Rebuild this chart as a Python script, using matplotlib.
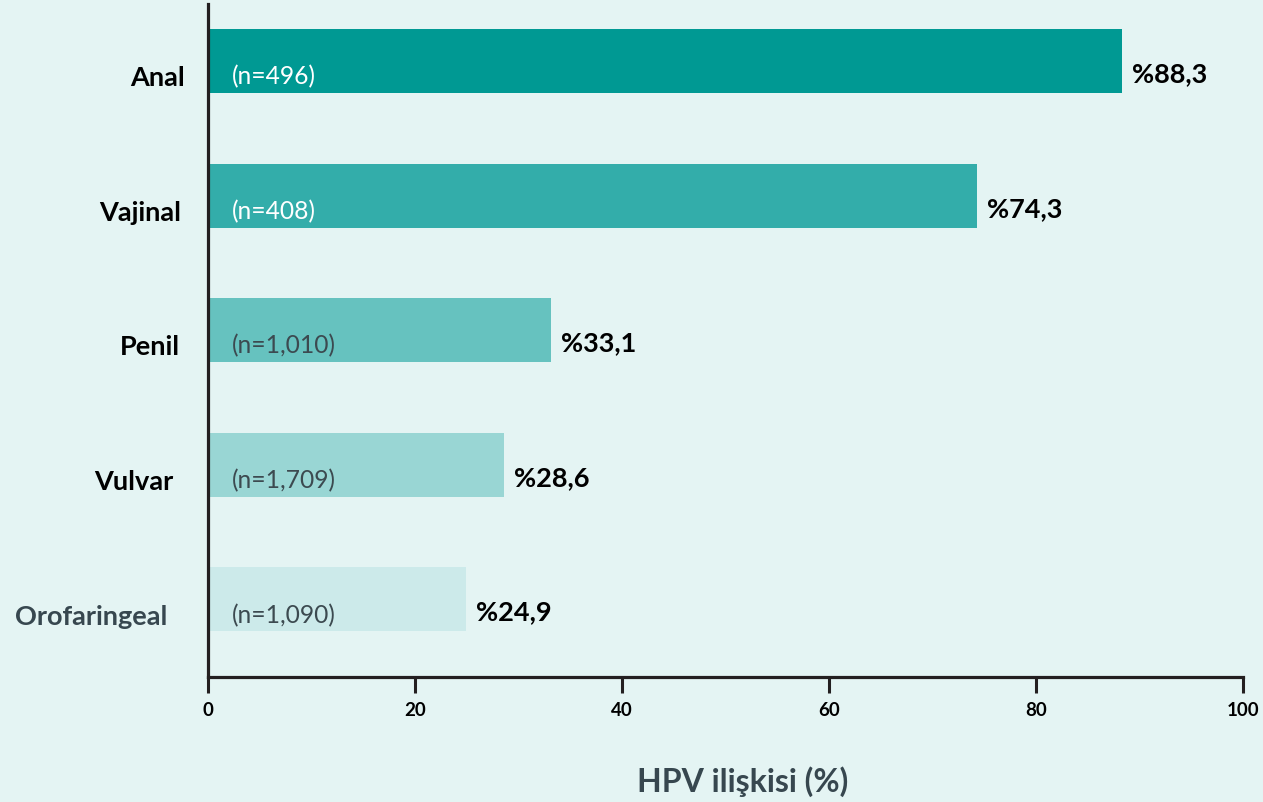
import matplotlib
matplotlib.use("Agg")
import matplotlib.pyplot as plt

plt.rcParams['font.family'] = ['Lato', 'DejaVu Sans']

categories = ["Anal", "Vajinal", "Penil", "Vulvar", "Orofaringeal"]
values = [88.3, 74.3, 33.1, 28.6, 24.9]
n_labels = ["(n=496)", "(n=408)", "(n=1,010)", "(n=1,709)", "(n=1,090)"]
value_labels = ["%88,3", "%74,3", "%33,1", "%28,6", "%24,9"]
xticks = [0, 20, 40, 60, 80, 100]
xlabel = "HPV ilişkisi (%)"

bar_colors = ["#009993", "#33ADAA", "#66C2BF", "#99D6D4", "#CCEAEA"]
n_colors = ["white", "white", "#3C4A50", "#3C4A50", "#3C4A50"]
cat_colors = ["black", "black", "black", "black", "#37474F"]
cat_x = [185, 181, 180, 173, 167]  # right edge in pixels
bg = "#E4F4F3"

W, H = 1263, 803
fig = plt.figure(figsize=(W / 100, H / 100), dpi=100, facecolor=bg)
ax = fig.add_axes([208 / W, 1 - 678 / H, (1243 - 208) / W, (678 - 5) / H])
ax.set_facecolor(bg)

ypos = list(range(len(categories) - 1, -1, -1))
ax.barh(ypos, values, height=0.475, color=bar_colors, zorder=2)

ax.set_xlim(0, 100)
ax.set_ylim(-0.577, 4.424)
ax.set_xticks(xticks)
ax.set_xticklabels([str(t) for t in xticks], fontsize=13.5, fontweight='bold')
ax.set_yticks([])
ax.tick_params(axis='x', length=11.5, width=2.2, color="#231F20", pad=6)

for s in ["top", "right"]:
    ax.spines[s].set_visible(False)
for s in ["left", "bottom"]:
    ax.spines[s].set_linewidth(2.3)
    ax.spines[s].set_color("#231F20")

blend = matplotlib.transforms.blended_transform_factory(fig.transFigure, ax.transData)
for y, cat, v, nl, vl, nc, cc, cx in zip(ypos, categories, values, n_labels,
                                         value_labels, n_colors, cat_colors, cat_x):
    ax.text(2.3, y - 0.11, nl, color=nc, fontsize=17.7, va='center', ha='left', zorder=3)
    ax.text(v + 1.0, y - 0.09, vl, color='black', fontsize=19.5, fontweight='bold',
            va='center', ha='left')
    fig.text(cx / W, y - 0.12, cat, color=cc, fontsize=19.5, fontweight='bold',
             va='center', ha='right', transform=blend)

fig.text(743 / W, 1 - 782 / H, xlabel, color="#37474F", fontsize=23,
         fontweight='bold', ha='center', va='center')

fig.savefig("out.png", dpi=100, facecolor=bg)
